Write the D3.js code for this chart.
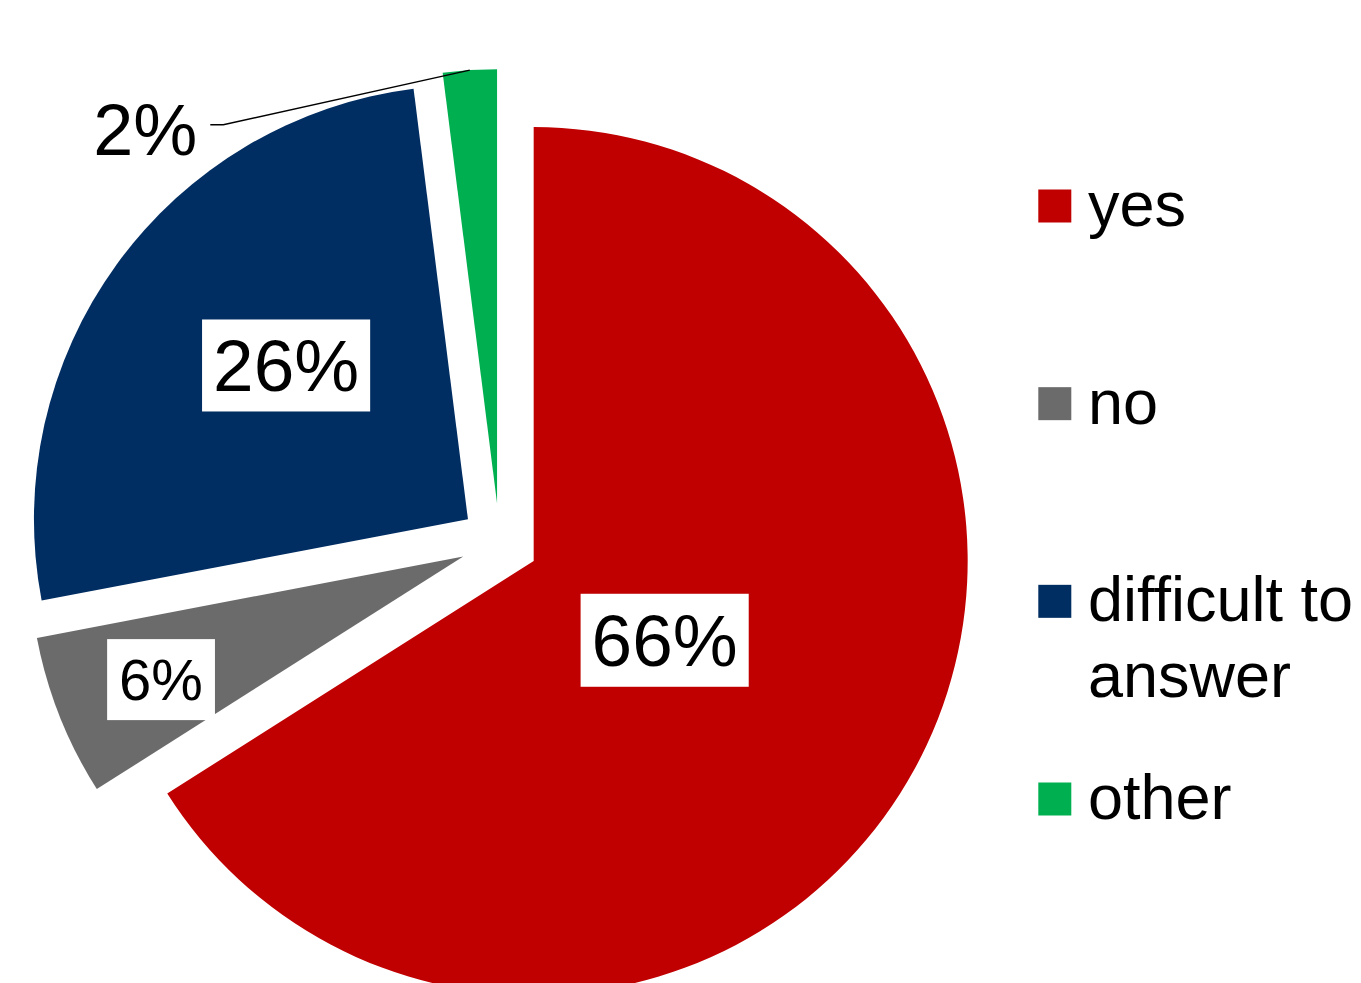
<!DOCTYPE html>
<html>
<head>
<meta charset="utf-8">
<script src="https://cdn.jsdelivr.net/npm/d3@7/dist/d3.min.js"></script>
<style>
  html, body { margin: 0; padding: 0; background: #fff; overflow: hidden; }
  svg { display: block; font-family: "Liberation Sans", Arial, sans-serif; }
</style>
</head>
<body>
<svg id="chart" width="1361" height="983"></svg>
<script>
// Survey answers, shares in percent
const categories = ["yes", "no", "difficult to answer", "other"];
const shares = [66, 6, 26, 2];
const valueLabels = ["66%", "6%", "26%", "2%"];
const legendLines = [["yes"], ["no"], ["difficult to", "answer"], ["other"]];
const sliceColors = ["#C00000", "#6B6B6B", "#002D62", "#00B050"];

// Layout
const W = 1361, H = 983;
const cx = 499.5, cy = 542.2;   // pie centre before slices are pulled out
const radius = 434;
const explode = 39;            // every slice is pulled out by the same distance

// Where each inside label sits: fraction of the radius and a small angular nudge (deg)
const labelPlace = [
  { frac: 0.351, shift: 1.9, font: 73, padX: 11, padY: 6 },
  { frac: 0.751, shift: -0.4, font: 58, padX: 12, padY: 8 },
  { frac: 0.551, shift: 4.5, font: 73, padX: 11, padY: 5.5 },
  null // "other" is labelled outside with a leader line
];

const svg = d3.select("#chart");

const pie = d3.pie().sort(null).value(d => d);
const arcs = pie(shares);
const arc = d3.arc().innerRadius(0).outerRadius(radius);

const dir = a => [Math.sin(a), -Math.cos(a)];
const mid = d => (d.startAngle + d.endAngle) / 2;

const slices = svg.append("g").attr("class", "slices");
arcs.forEach((d, i) => {
  const [dx, dy] = dir(mid(d));
  const ox = cx + dx * explode, oy = cy + dy * explode;
  slices.append("path")
    .attr("d", arc(d))
    .attr("transform", `translate(${ox},${oy})`)
    .attr("fill", sliceColors[i]);
});

// Inside labels in white boxes
const labels = svg.append("g").attr("class", "labels");
arcs.forEach((d, i) => {
  const lp = labelPlace[i];
  if (!lp) return;
  const [dx, dy] = dir(mid(d));
  const ox = cx + dx * explode, oy = cy + dy * explode;
  const a = mid(d) + lp.shift * Math.PI / 180;
  const [lx, ly] = dir(a);
  const px = ox + lx * radius * lp.frac;
  const py = oy + ly * radius * lp.frac;
  const g = labels.append("g");
  const rect = g.append("rect").attr("fill", "#fff");
  const t = g.append("text")
    .attr("x", px)
    .attr("y", py + lp.font * 0.37)
    .attr("text-anchor", "middle")
    .attr("font-size", lp.font)
    .attr("fill", "#000")
    .text(valueLabels[i]);
  const bb = t.node().getBBox();
  rect.attr("x", bb.x - lp.padX)
    .attr("y", bb.y - lp.padY)
    .attr("width", bb.width + 2 * lp.padX)
    .attr("height", bb.height + 2 * lp.padY);
});

// Outside label with leader line for the smallest slice
{
  const i = 3, d = arcs[i];
  const [dx, dy] = dir(mid(d));
  const ox = cx + dx * explode, oy = cy + dy * explode;
  const ex = ox + dx * radius, ey = oy + dy * radius;
  const tx = ex - 272.5, ty = ey + 84.7;   // text end, baseline
  const kx = tx + 13, ky = ty - 30;       // leader start
  svg.append("path")
    .attr("d", `M${kx},${ky} L${kx + 13},${ky} L${ex},${ey}`)
    .attr("fill", "none")
    .attr("stroke", "#000")
    .attr("stroke-width", 1.5);
  svg.append("text")
    .attr("x", tx)
    .attr("y", ty)
    .attr("text-anchor", "end")
    .attr("font-size", 72)
    .attr("fill", "#000")
    .text(valueLabels[i]);
}

// Legend
const legendX = 1038.3, legendSwatch = 33;
const rowY = d3.scalePoint().domain(categories).range([206, 799]);
const legend = svg.append("g").attr("class", "legend");
categories.forEach((c, i) => {
  const y = rowY(c);
  legend.append("rect")
    .attr("x", legendX)
    .attr("y", y - legendSwatch / 2)
    .attr("width", legendSwatch)
    .attr("height", legendSwatch)
    .attr("fill", sliceColors[i]);
  const t = legend.append("text")
    .attr("x", 1088)
    .attr("y", y + 20)
    .attr("font-size", 63)
    .attr("fill", "#000")
    .style("font-variant-ligatures", "none");
  legendLines[i].forEach((line, k) => {
    t.append("tspan")
      .attr("x", 1088)
      .attr("dy", k === 0 ? 0 : 76)
      .text(line);
  });
});
</script>
</body>
</html>
